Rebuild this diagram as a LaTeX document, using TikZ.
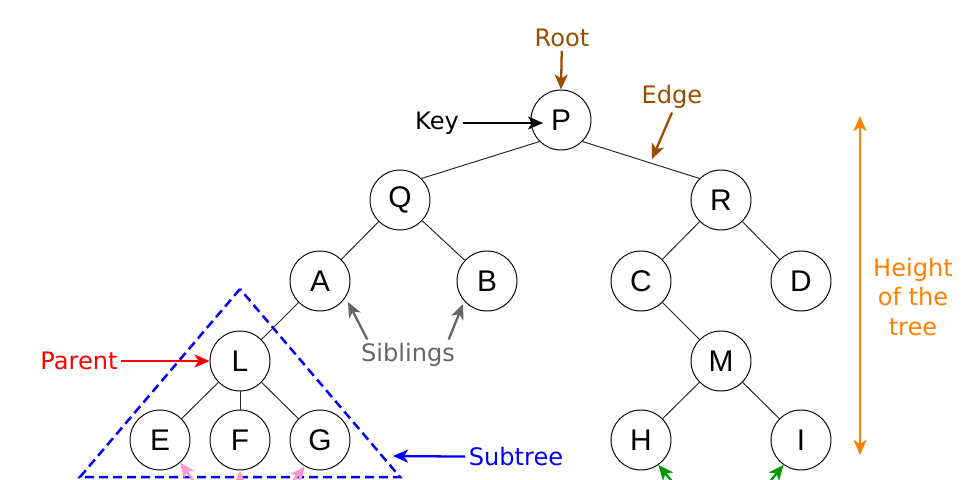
\documentclass[tikz,border=0pt]{standalone}
\usepackage{fontspec}
\setmainfont{DejaVu Sans}
\newfontfamily\keyfont{Liberation Sans}
\usetikzlibrary{arrows.meta}
\definecolor{rootcolor}{RGB}{153, 76, 0}
\definecolor{heightcolor}{RGB}{255, 128, 0}
\definecolor{siblingcolor}{RGB}{102, 102, 102}
\definecolor{subtreecolor}{RGB}{0, 0, 255}
\definecolor{parentcolor}{RGB}{255, 0, 0}
\definecolor{childcolor}{RGB}{255, 153, 204}
\definecolor{leafcolor}{RGB}{0, 153, 0}

\begin{document}
\begin{tikzpicture}[
    x=0.02cm, y=-0.02cm,
    >={Stealth[length=0.3cm, width=0.26cm, inset=0.08cm]},
    treenode/.style={draw, circle, fill=white, line width=0.55pt, minimum size=1.2cm, inner sep=0pt, font=\keyfont\fontsize{17}{20}\selectfont},
    link/.style={draw=black!85, line width=0.55pt},
    note/.style={font=\fontsize{13.7}{17}\selectfont, inner sep=2pt},
    pointer/.style={line width=1.3pt, ->},
]
    \clip (0,0) rectangle (975,480);

    % Subtree outline
    \draw[subtreecolor, line width=0.05cm, dash pattern=on 0.18cm off 0.1cm] (240,289) -- (80,477) -- (400,477) -- cycle;

    % Tree nodes
    \node[treenode] (P) at (561,120) {P};
    \node[treenode] (Q) at (400,200) {Q};
    \node[treenode] (R) at (721,200) {R};
    \node[treenode] (A) at (320,281) {A};
    \node[treenode] (B) at (487,281) {B};
    \node[treenode] (C) at (641,281) {C};
    \node[treenode] (D) at (801,281) {D};
    \node[treenode] (L) at (240,361) {L};
    \node[treenode] (M) at (721,361) {M};
    \node[treenode] (E) at (160,440) {E};
    \node[treenode] (F) at (240,440) {F};
    \node[treenode] (G) at (320,440) {G};
    \node[treenode] (H) at (641,440) {H};
    \node[treenode] (I) at (801,440) {I};

    % Edges
    \draw[link] (P.-135) -- (Q.45);
    \draw[link] (P.-45) -- (R.135);
    \foreach \a/\b in {Q/A, Q/B, A/L, L/E, L/F, L/G, R/C, R/D, C/M, M/H, M/I}
        \draw[link] (\a) -- (\b);

    % Labels
    \node[note, text=rootcolor] (root) at (562,38) {Root};
    \node[note] (key) at (437,123) {Key};
    \node[note, text=rootcolor] (edge) at (672,97) {Edge};
    \node[note, text=siblingcolor] (sib) at (408,355) {Siblings};
    \node[note, text=parentcolor] (parent) at (79,361) {Parent};
    \node[note, text=subtreecolor] (subtree) at (516,457) {Subtree};
    \node[note, text=heightcolor, align=center] (height) at (913,297) {Height\\of the\\tree};

    % Pointer ends
    \coordinate (keytip) at (543,123);
    \coordinate (edgetip) at (652,159);
    \coordinate (sibA) at (348,302);
    \coordinate (sibB) at (463,304);
    \coordinate (subtip) at (393,456);
    \coordinate (htop) at (860,116);
    \coordinate (hbot) at (860,455);
    \coordinate (Ein) at (200,490);
    \coordinate (Fin) at (240,496);
    \coordinate (Gin) at (286,490);
    \coordinate (Hin) at (679,490);
    \coordinate (Iin) at (763,490);

    % Pointers
    \draw[pointer, rootcolor] (root) -- (P.north);
    \draw[pointer] (key) -- (keytip);
    \draw[pointer, rootcolor] (edge.south) -- (edgetip);
    \draw[pointer, siblingcolor] ([xshift=0.2cm]sib.north west) -- (sibA);
    \draw[pointer, siblingcolor] ([xshift=-0.2cm]sib.north east) -- (sibB);
    \draw[pointer, parentcolor] (parent) -- (L);
    \draw[pointer, subtreecolor] (subtree) -- (subtip);
    \draw[pointer, heightcolor, <->] (htop) -- (hbot);
    \draw[pointer, childcolor] (Ein) -- (E.-48);
    \draw[pointer, childcolor] (Fin) -- (F.south);
    \draw[pointer, childcolor] (Gin) -- (G.-120);
    \draw[pointer, leafcolor] (Hin) -- (H.-55);
    \draw[pointer, leafcolor] (Iin) -- (I.-125);
\end{tikzpicture}
\end{document}
